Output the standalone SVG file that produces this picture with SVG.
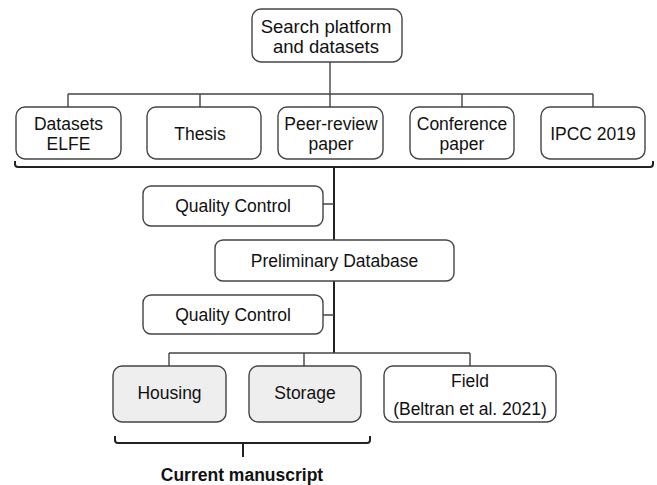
<svg xmlns="http://www.w3.org/2000/svg" width="657" height="485" viewBox="0 0 657 485">
<style>
.box{fill:#fff;stroke:#444;stroke-width:1.4}
.grey{fill:#eeeeee}
text{font-family:"Liberation Sans",Arial,sans-serif;font-size:17.5px;fill:#111;text-anchor:middle}
.big{font-size:18.5px}
.bold{font-weight:bold}
.ln{fill:none;stroke:#444;stroke-width:1.4}
.thick{fill:none;stroke:#222;stroke-width:2}
</style>
<rect width="657" height="485" fill="#fff"/>
<g id="connectors">
<path class="ln" d="M330,62 V94 M68,94 H593 M68,94 V107 M200,94 V107 M330,94 V107 M462,94 V107 M593,94 V107"/>
<path class="thick" d="M15,161 V164 Q15,167 18,167 H650 Q653,167 653,164 V161"/>
<path class="thick" d="M334,167 V353"/>
<path class="ln" d="M323,204 H334 M323,315 H334"/>
<path class="ln" d="M169,353 H470 M169,353 V366 M304,353 V366 M470,353 V366"/>
<path class="thick" d="M115,436 V440 Q115,443 118,443 H367 Q370,443 370,440 V436 M243,443 V457"/>
</g>
<g id="search"><rect class="box" x="252" y="9" width="150" height="53" rx="9"/><text class="big" x="326" y="32.5">Search platform</text><text class="big" x="326" y="53">and datasets</text></g>
<g id="elfe"><rect class="box" x="16" y="107" width="105" height="52" rx="9"/><text x="68.5" y="130">Datasets</text><text x="68.5" y="149.5">ELFE</text></g>
<g id="thesis"><rect class="box" x="147" y="107" width="114" height="52" rx="9"/><text x="200" y="140">Thesis</text></g>
<g id="peer"><rect class="box" x="278" y="107" width="105" height="52" rx="9"/><text x="331" y="130">Peer-review</text><text x="331" y="149.5">paper</text></g>
<g id="conference"><rect class="box" x="410" y="107" width="104" height="52" rx="9"/><text x="462" y="130">Conference</text><text x="462" y="149.5">paper</text></g>
<g id="ipcc"><rect class="box" x="541" y="107" width="104" height="52" rx="9"/><text x="593" y="140">IPCC 2019</text></g>
<g id="qc1"><rect class="box" x="143" y="186" width="180" height="40" rx="8"/><text x="233" y="212">Quality Control</text></g>
<g id="prelim"><rect class="box" x="215" y="240" width="239" height="41" rx="8"/><text x="334.5" y="266.5">Preliminary Database</text></g>
<g id="qc2"><rect class="box" x="143" y="295" width="180" height="39" rx="8"/><text x="233" y="320.5">Quality Control</text></g>
<g id="housing"><rect class="box grey" x="113" y="366" width="113" height="56" rx="9"/><text x="169.5" y="399">Housing</text></g>
<g id="storage"><rect class="box grey" x="249" y="366" width="112" height="56" rx="9"/><text x="305" y="399">Storage</text></g>
<g id="field"><rect class="box" x="384" y="366" width="172" height="56" rx="9"/><text x="470" y="387">Field</text><text x="470" y="415">(Beltran et al. 2021)</text></g>
<g id="manuscript"><text class="bold" x="242" y="481">Current manuscript</text></g>
</svg>
